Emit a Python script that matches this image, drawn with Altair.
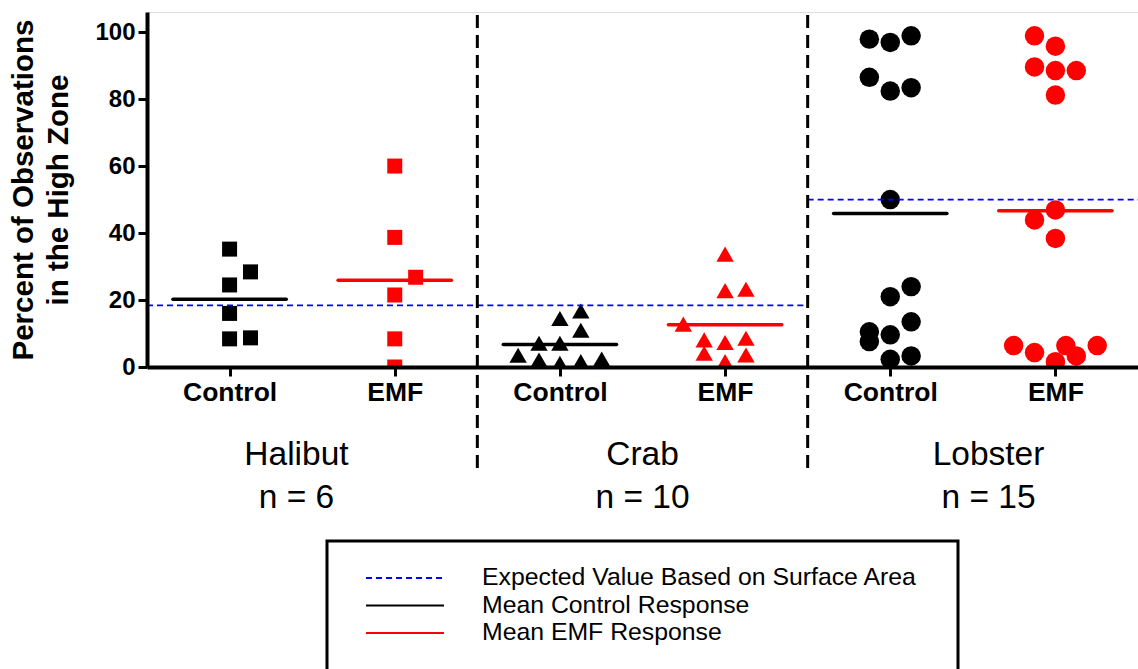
import altair as alt
import pandas as pd

# ---- data -------------------------------------------------------------
species = ["Halibut", "Crab", "Lobster"]
treatments = ["Control", "EMF"]
shapes = ["square", "triangle-up", "circle"]
expected = [18.4, 18.4, 50.0]          # expected % from surface area

halibut_control = [35.2, 28.4, 24.5, 16.0, 8.4, 8.7]
halibut_control_col = [0, 1, 0, 0, 0, 1]
halibut_emf = [60.0, 38.7, 26.8, 21.5, 8.4, 0.0]
halibut_emf_col = [0, 0, 1, 0, 0, 0]

crab_control = [3.5, 7.1, 2.1, 14.5, 7.1, 1.1, 16.7, 11.0, 1.6, 2.4]
crab_control_col = [-2, -1, -1, 0, 0, 0, 1, 1, 1, 2]
crab_emf = [33.7, 22.8, 23.2, 12.8, 8.1, 4.1, 7.3, 1.6, 8.6, 3.6]
crab_emf_col = [0, 0, 1, -2, -1, -1, 0, 0, 1, 1]

lobster_control = [97.9, 96.9, 98.9, 86.5, 82.4, 83.4, 50.0, 24.0, 21.0,
                   13.5, 10.5, 9.6, 7.6, 2.3, 3.3]
lobster_control_col = [-1, 0, 1, -1, 0, 1, 0, 1, 0, 1, -1, 0, -1, 0, 1]
lobster_emf = [98.9, 95.8, 89.6, 88.5, 88.5, 81.2, 46.9, 43.9, 38.4,
               6.4, 4.3, 6.4, 3.3, 6.4, 1.6]
lobster_emf_col = [-1, 0, -1, 0, 1, 0, 0, -1, 0, -2, -1, 0.5, 1, 2, 0]

legend_labels = ["Expected Value Based on Surface Area",
                 "Mean Control Response", "Mean EMF Response"]
legend_colors = ["#0000FF", "#000000", "#FF0000"]

# ---- tables -----------------------------------------------------------
groups = [
    ("Halibut", "Control", halibut_control, halibut_control_col),
    ("Halibut", "EMF", halibut_emf, halibut_emf_col),
    ("Crab", "Control", crab_control, crab_control_col),
    ("Crab", "EMF", crab_emf, crab_emf_col),
    ("Lobster", "Control", lobster_control, lobster_control_col),
    ("Lobster", "EMF", lobster_emf, lobster_emf_col),
]
rows = []
for sp, tr, vals, cols in groups:
    slot = species.index(sp) * 2 + treatments.index(tr)
    for v, c in zip(vals, cols):
        rows.append({"species": sp, "treatment": tr, "slot": slot,
                     "value": v, "col": c})
points = pd.DataFrame(rows)

exp_df = pd.DataFrame({"species": species, "idx": range(len(species)),
                       "expected": expected})
div_df = pd.DataFrame({"idx": range(1, len(species))})
leg_df = pd.DataFrame({"label": legend_labels, "color": legend_colors,
                       "i": range(len(legend_labels))})

FONT = "Liberation Sans"
x_scale = alt.Scale(domain=[-0.5, 5.5], nice=False, zero=False)
y_scale = alt.Scale(domain=[0, 106], nice=False)
color_scale = alt.Scale(domain=treatments, range=["#000000", "#FF0000"])
STEP = 0.1265   # horizontal spacing of stacked points, in slot units
# group captions sit slightly spread out from the panel centres
CAPTION_X = "2.5 + (datum.idx - 1) * 2.095"

# identical axis definitions shared by every layer on the data scales
x_axis = alt.Axis(
    values=list(range(6)),
    labelExpr=f"['{treatments[0]}','{treatments[1]}'][datum.value % 2]",
    title="", grid=False, labelFont=FONT, labelFontSize=26.5,
    labelFontWeight="bold", labelColor="black", labelPadding=3,
    tickSize=9, tickWidth=3, tickColor="black", domainWidth=4,
    domainColor="black", zindex=1)
y_axis = alt.Axis(
    values=[0, 20, 40, 60, 80, 100], grid=False,
    title=["Percent of Observations", "in the High Zone"],
    titleFont=FONT, titleFontSize=29.5, titleFontWeight="bold",
    titleColor="black", titleLineHeight=35, titlePadding=21,
    labelFont=FONT, labelFontSize=24, labelFontWeight="bold",
    labelColor="black", labelPadding=3, tickSize=9, tickWidth=3,
    tickColor="black", domainWidth=4, domainColor="black", zindex=1)

base = alt.Chart(points)

dots = base.transform_calculate(
    xp=f"datum.slot + datum.col * {STEP}"
).mark_point(filled=True, opacity=1, strokeWidth=0, clip=True).encode(
    x=alt.X("xp:Q", scale=x_scale, axis=x_axis),
    y=alt.Y("value:Q", scale=y_scale, axis=y_axis),
    color=alt.Color("treatment:N", scale=color_scale, legend=None),
    shape=alt.Shape("species:N", scale=alt.Scale(domain=species, range=shapes),
                    legend=None),
    size=alt.Size("species:N", scale=alt.Scale(domain=species,
                                                range=[225, 380, 225]),
                  legend=None),
)

means = base.transform_aggregate(
    mean="mean(value)", groupby=["slot", "treatment"]
).transform_calculate(
    x1="datum.slot - 0.343", x2="datum.slot + 0.343"
).mark_rule(strokeWidth=3.5, strokeCap="round").encode(
    x=alt.X("x1:Q", scale=x_scale, axis=x_axis),
    x2="x2:Q",
    y=alt.Y("mean:Q", scale=y_scale, axis=y_axis),
    color=alt.Color("treatment:N", scale=color_scale, legend=None),
)

expected_lines = alt.Chart(exp_df).transform_calculate(
    x1="datum.idx * 2 - 0.5", x2="datum.idx * 2 + 1.5"
).mark_rule(color="#0000FF", strokeWidth=1.8, strokeDash=[6, 4]).encode(
    x=alt.X("x1:Q", scale=x_scale, axis=x_axis),
    x2="x2:Q",
    y=alt.Y("expected:Q", scale=y_scale, axis=y_axis),
)

dividers = alt.Chart(div_df).transform_calculate(
    xd="datum.idx * 2 - 0.5"
).mark_rule(color="black", strokeWidth=3, strokeDash=[13, 7]).encode(
    x=alt.X("xd:Q", scale=x_scale, axis=x_axis),
    y=alt.value(3), y2=alt.value(456),
)

names = alt.Chart(exp_df).transform_calculate(
    xc=CAPTION_X
).mark_text(font=FONT, fontSize=33.5, color="black", baseline="middle").encode(
    x=alt.X("xc:Q", scale=x_scale, axis=x_axis),
    y=alt.value(443),
    text="species:N",
)

counts = base.transform_filter(
    alt.datum.treatment == treatments[0]
).transform_aggregate(
    n="count()", groupby=["species", "slot"]
).transform_calculate(
    label="'n = ' + datum.n", idx="datum.slot / 2"
).transform_calculate(
    xc=CAPTION_X
).mark_text(font=FONT, fontSize=33.5, color="black", baseline="middle").encode(
    x=alt.X("xc:Q", scale=x_scale, axis=x_axis),
    y=alt.value(486),
    text="label:N",
)

legend_box = alt.Chart(pd.DataFrame({"k": [0]})).mark_rect(
    fill="white", stroke="black", strokeWidth=3
).encode(x=alt.value(180), x2=alt.value(811),
         y=alt.value(529), y2=alt.value(700))

leg = alt.Chart(leg_df).transform_calculate(
    ly="566 + datum.i * 27.5", lx1="219", lx2="297", tx="335"
)
leg_lines = leg.mark_rule(strokeWidth=2).encode(
    x=alt.X("lx1:Q", scale=None), x2="lx2:Q",
    y=alt.Y("ly:Q", scale=None),
    color=alt.Color("color:N", scale=None),
    strokeDash=alt.StrokeDash("i:N", scale=alt.Scale(
        domain=[0, 1, 2], range=[[6, 4], [1, 0], [1, 0]]), legend=None),
)
leg_text = leg.mark_text(font=FONT, fontSize=24.8, color="black",
                         align="left", baseline="middle").encode(
    x=alt.X("tx:Q", scale=None),
    y=alt.Y("ly:Q", scale=None),
    text="label:N",
)

chart = alt.layer(
    dots, means, expected_lines, dividers, names, counts,
    legend_box, leg_lines, leg_text
).properties(
    width=991, height=355,
    autosize=alt.AutoSizeParams(type="none"),
    padding={"left": 147, "top": 12, "right": 0, "bottom": 302},
).configure_view(stroke=None).configure(background="white")

chart.save("out.html", embed_options={"renderer": "svg", "actions": False})
